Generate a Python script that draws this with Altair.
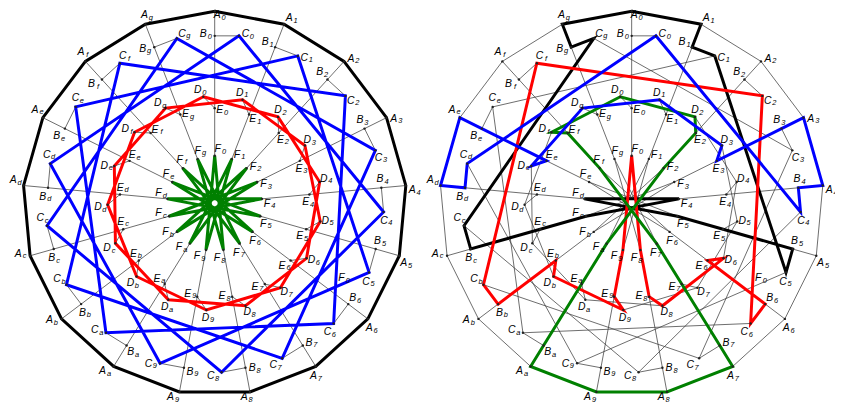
import math
import altair as alt
import pandas as pd

# ---- structure of the figure: 17 spokes, six rings A..F ----
N = 17
DIGITS = list("0123456789abcdefg")
RINGS = ["A", "B", "C", "D", "E", "F"]

# geometry (pixels)
CENTER_X = [216.7, 637.7]      # left figure, right figure
CENTER_Y = 203.2
R_A = 193.8
R_B = 169.0
C_SHIFT = 24.5                 # C_k = B_k moved clockwise along the tangent
R_E = 96.0
D_OUT = 11.5                   # D_k = E_k moved outward and counter-clockwise
D_SIDE = 11.5
R_F = 48.0

# left figure: star polygons {17/step} drawn thick
STAR_STEPS = {"A": 1, "C": 4, "D": 2, "F": 8}
LEFT_COLORS = {"A": "#000000", "C": "#0000ff", "D": "#ff0000", "F": "#008000"}

# right figure: four closed paths
LOOPS = {
    "black": ["A0", "A1", "B1", "C1", "C5", "B5", "E5", "F5", "Fd", "F4", "Fc", "Ec", "Bc", "Cc", "Cg", "Bg", "Ag"],
    "red":   ["Cf", "C2", "C6", "B6", "E6", "D6", "D8", "E8", "F8", "F0", "F9", "E9", "D9", "Db", "Eb", "Bb", "Cb"],
    "green": ["A7", "A8", "A9", "Aa", "Ba", "Ea", "Fa", "F2", "E2", "D2", "D0", "Df", "Ef", "Ff", "F7", "E7", "B7"],
    "blue":  ["Ae", "Ad", "Bd", "Cd", "C0", "C4", "B4", "A4", "A3", "B3", "E3", "D3", "D1", "Dg", "De", "Ee", "Be"],
}
LOOP_COLORS = {"black": "#000000", "red": "#ff0000", "green": "#008000", "blue": "#0000ff"}

# label offsets per ring: (outward, clockwise)
LABEL_OFFSETS = {"A": (8.5, 5.0), "B": (2.0, -9.0), "C": (2.0, 9.0),
                 "D": (7.0, -3.0), "E": (-2.0, 7.5), "F": (7.0, 5.5)}
EXTRA_LABEL = {"letter": "F", "sub": "0", "r": 150.5, "bearing": 120.0}


def pos(cx, ring, k):
    t = 2 * math.pi * k / N
    ox, oy = math.sin(t), -math.cos(t)
    tx, ty = math.cos(t), math.sin(t)
    cy = CENTER_Y
    if ring == "A":
        return cx + R_A * ox, cy + R_A * oy
    if ring == "B":
        return cx + R_B * ox, cy + R_B * oy
    if ring == "C":
        bx, by = pos(cx, "B", k)
        return bx + C_SHIFT * tx, by + C_SHIFT * ty
    if ring == "E":
        return cx + R_E * ox, cy + R_E * oy
    if ring == "D":
        ex, ey = pos(cx, "E", k)
        return ex + D_OUT * ox - D_SIDE * tx, ey + D_OUT * oy - D_SIDE * ty
    return cx + R_F * ox, cy + R_F * oy


def tok(cx, name):
    return pos(cx, name[0], DIGITS.index(name[1]))


# thin construction lines
segs = []


def seg(p, q):
    segs.append({"x": p[0], "y": p[1], "x2": q[0], "y2": q[1]})


for fig, cx in enumerate(CENTER_X):
    for k in range(N):
        seg(pos(cx, "A", k), pos(cx, "F", k))
        seg(pos(cx, "B", k), pos(cx, "C", k))
        seg(pos(cx, "D", k), pos(cx, "E", k))
    if fig == 1:
        for ring, step in STAR_STEPS.items():
            for k in range(N):
                seg(pos(cx, ring, k), pos(cx, ring, (k + step) % N))

# thick paths
paths = []


def add_path(pid, pts, color):
    closed = pts + pts[:2]
    for i, p in enumerate(closed):
        paths.append({"x": p[0], "y": p[1], "seq": i, "pid": pid, "color": color})


cx = CENTER_X[0]
for ring, step in STAR_STEPS.items():
    add_path("L" + ring, [pos(cx, ring, (j * step) % N) for j in range(N)], LEFT_COLORS[ring])
cx = CENTER_X[1]
for name, seq in LOOPS.items():
    add_path("R" + name, [tok(cx, s) for s in seq], LOOP_COLORS[name])

# points and labels
pts = []
mains = []
subs = []


def add_label(bx, by, letter, sub):
    by = min(max(by, 12.8), 399.0)
    mains.append({"x": bx - 2.5, "y": by + 3.3, "t": letter})
    subs.append({"x": bx + 4.0, "y": by + 4.9, "t": sub})


for cx in CENTER_X:
    for ring in RINGS:
        o, c = LABEL_OFFSETS[ring]
        for k in range(N):
            px, py = pos(cx, ring, k)
            pts.append({"x": px, "y": py})
            t = 2 * math.pi * k / N
            bx = px + o * math.sin(t) + c * math.cos(t)
            by = py - o * math.cos(t) + c * math.sin(t)
            add_label(bx, by, ring, DIGITS[k])
    b = math.radians(EXTRA_LABEL["bearing"])
    add_label(cx + EXTRA_LABEL["r"] * math.sin(b), CENTER_Y - EXTRA_LABEL["r"] * math.cos(b),
              EXTRA_LABEL["letter"], EXTRA_LABEL["sub"])

W, H = 835, 397
xs = alt.Scale(domain=[8, 8 + W], range=[0, W])
ys = alt.Scale(domain=[8, 8 + H], range=[0, H])
X = lambda f="x": alt.X(f + ":Q", scale=xs, axis=None)
Y = lambda f="y": alt.Y(f + ":Q", scale=ys, axis=None)

thin = alt.Chart(pd.DataFrame(segs)).mark_rule(color="#3c3c3c", strokeWidth=0.75).encode(
    x=X(), y=Y(), x2="x2:Q", y2="y2:Q")

thick = alt.Chart(pd.DataFrame(paths)).mark_line(strokeWidth=3, interpolate="linear").encode(
    x=X(), y=Y(), detail="pid:N", order=alt.Order("seq:Q"),
    color=alt.Color("color:N", scale=None))

dots = alt.Chart(pd.DataFrame(pts)).mark_circle(size=6, color="#222222", opacity=1).encode(x=X(), y=Y())

tmain = alt.Chart(pd.DataFrame(mains)).mark_text(
    font="Liberation Sans", fontStyle="italic", fontSize=10.5, align="center",
    baseline="alphabetic", color="#000000").encode(x=X(), y=Y(), text="t:N")
tsub = alt.Chart(pd.DataFrame(subs)).mark_text(
    font="Liberation Sans", fontStyle="italic", fontSize=7.5, align="center",
    baseline="alphabetic", color="#000000").encode(x=X(), y=Y(), text="t:N")

chart = alt.layer(thin, thick, dots, tmain, tsub).properties(
    width=W, height=H, padding=0, autosize="none", background="white"
).configure_view(stroke=None)

chart.save("out.html", embed_options={"renderer": "svg", "actions": False})
